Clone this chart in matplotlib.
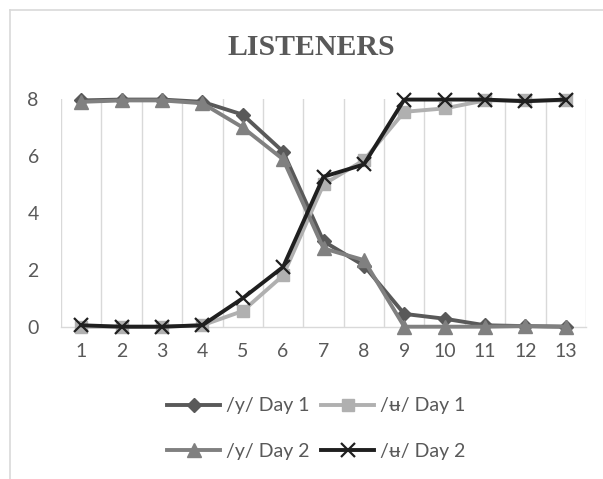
import matplotlib
matplotlib.use("Agg")
import matplotlib.pyplot as plt
from matplotlib.lines import Line2D

plt.rcParams['font.family'] = ['Lato', 'DejaVu Sans']

x = list(range(1, 14))
y_day1 = [7.95, 7.98, 7.98, 7.9, 7.45, 6.15, 3.0, 2.15, 0.45, 0.28, 0.05, 0.02, 0.0]
u_day1 = [0.0, 0.0, 0.0, 0.05, 0.55, 1.8, 5.0, 5.85, 7.55, 7.67, 7.95, 7.95, 7.95]
y_day2 = [7.9, 7.95, 7.95, 7.85, 7.0, 5.88, 2.75, 2.34, 0.0, 0.0, 0.0, 0.02, 0.0]
u_day2 = [0.05, 0.0, 0.0, 0.05, 1.0, 2.1, 5.27, 5.7, 7.98, 7.98, 7.98, 7.92, 7.98]
labels = ['/y/ Day 1', '/ʉ/ Day 1', '/y/ Day 2', '/ʉ/ Day 2']
title = 'LISTENERS'

W, H = 603, 479
fig = plt.figure(figsize=(W/100, H/100), dpi=100)
ax = fig.add_axes([61/W, 1-326.7/H, (586-61)/W, (326.7-99)/H])

lw = 2.8
l1, = ax.plot(x, y_day1, color='#595959', lw=lw, marker='D', ms=7, clip_on=False, zorder=3)
l2, = ax.plot(x, u_day1, color='#b0b0b0', lw=lw, marker='s', ms=9, clip_on=False, zorder=3)
l3, = ax.plot(x, y_day2, color='#808080', lw=lw, marker='^', ms=10, clip_on=False, zorder=4)
l4, = ax.plot(x, u_day2, color='#1f1f1f', lw=lw, marker='x', ms=10, mew=1.6, clip_on=False, zorder=5)

ax.set_xlim(0.5, 13.5)
ax.set_ylim(0, 8)
ax.set_xticks(x)
ax.set_xticklabels([str(v) for v in x])
ax.set_yticks([0, 2, 4, 6, 8])
ax.set_xticks([v + 0.5 for v in range(0, 14)], minor=True)
ax.grid(which='minor', axis='x', color='#d9d9d9', lw=1.0)
ax.tick_params(which='both', length=0)
ax.tick_params(axis='x', pad=12, labelsize=14, labelcolor='#595959')
ax.tick_params(axis='y', pad=16, labelsize=14, labelcolor='#595959')
for s in ['top', 'right', 'left']:
    ax.spines[s].set_visible(False)
ax.spines['bottom'].set_color('#d9d9d9')
ax.spines['bottom'].set_linewidth(1.0)

fig.text(311/W, 1-47.5/H, title, ha='center', va='center', fontsize=21.5,
         fontweight='bold', color='#595959', family=['Liberation Serif'])

leg = fig.legend([l1, l3, l2, l4], [labels[0], labels[2], labels[1], labels[3]],
                 ncol=2, loc='center', bbox_to_anchor=(316/W, 1-428.5/H),
                 frameon=False, fontsize=14, handlelength=2.75, handletextpad=0.28,
                 columnspacing=0.6, labelspacing=1.45, labelcolor='#595959')

# outer chart border (top and left visible)
fig.add_artist(Line2D([9.5/W, 1], [1-9.5/H, 1-9.5/H], transform=fig.transFigure, color='#d9d9d9', lw=1.2))
fig.add_artist(Line2D([9.5/W, 9.5/W], [0, 1-9.5/H], transform=fig.transFigure, color='#d9d9d9', lw=1.2))

fig.savefig('out.png', dpi=100)
